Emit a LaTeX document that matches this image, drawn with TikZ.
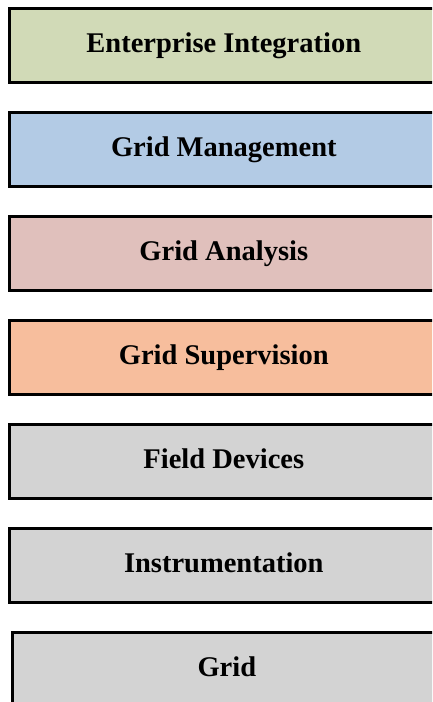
\documentclass[tikz,border=0pt]{standalone}
\usepackage{fontspec}
\setmainfont{Liberation Serif}
\definecolor{cgreen}{HTML}{D1DAB7}
\definecolor{cblue}{HTML}{B3CBE5}
\definecolor{cpink}{HTML}{E0C0BC}
\definecolor{corange}{HTML}{F7BE9D}
\definecolor{cgray}{HTML}{D3D3D3}
\begin{document}
\begin{tikzpicture}[x=1pt,y=-1pt,
  layer/.style={draw=black, line width=2.6pt, rectangle, anchor=north west,
    minimum width=429pt, minimum height=74pt, inner sep=0pt,
    text height=20pt, text depth=6pt,
    font=\fontsize{28.5}{32}\selectfont\bfseries}]
\useasboundingbox (0,0) rectangle (432,702);
\clip (0,0) rectangle (432,702);
\node[layer, fill=cgreen]  (ei) at (8,7)   {Enterprise Integration};
\node[layer, fill=cblue]   (gm) at (8,111) {Grid Management};
\node[layer, fill=cpink]   (ga) at (8,215) {Grid Analysis};
\node[layer, fill=corange] (gs) at (8,319) {Grid Supervision};
\node[layer, fill=cgray]   (fd) at (8,423) {Field Devices};
\node[layer, fill=cgray]   (in) at (8,527) {Instrumentation};
\node[layer, fill=cgray]   (gr) at (11,631) {Grid};
\end{tikzpicture}
\end{document}
